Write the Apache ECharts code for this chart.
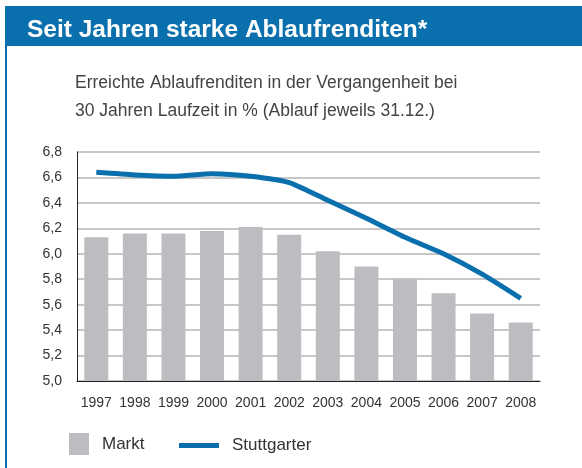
<!DOCTYPE html>
<html>
<head>
<meta charset="utf-8">
<script src="https://cdn.jsdelivr.net/npm/echarts@6/dist/echarts.min.js"></script>
<style>
  html, body { margin: 0; padding: 0; background: #fff; }
  #chart { width: 582px; height: 468px; }
</style>
</head>
<body>
<div id="chart"></div>
<script>
// Daten
const jahre = ['1997', '1998', '1999', '2000', '2001', '2002', '2003', '2004', '2005', '2006', '2007', '2008'];
const markt = [6.13, 6.16, 6.16, 6.18, 6.21, 6.15, 6.02, 5.90, 5.80, 5.69, 5.53, 5.46];
const stuttgarter = [6.64, 6.62, 6.61, 6.63, 6.61, 6.56, 6.42, 6.28, 6.13, 6.00, 5.84, 5.65];

const blau = '#0a70ad';
const grau = '#bcbdc0';
const schrift = 'Liberation Sans, Arial, Helvetica, sans-serif';

const chart = echarts.init(document.getElementById('chart'));

const option = {
  animation: false,
  graphic: [
    // blauer Kopfbalken
    { type: 'rect', left: 5, top: 6, shape: { width: 577, height: 40 }, style: { fill: blau } },
    // linke Randlinie
    { type: 'rect', left: 5, top: 6, shape: { width: 2, height: 462 }, style: { fill: blau } }
  ],
  title: [
    {
      text: 'Seit Jahren starke Ablaufrenditen*',
      left: 27, top: 18, padding: 0,
      textStyle: { color: '#fff', fontSize: 24.5, fontWeight: 'bold', fontFamily: schrift }
    },
    {
      text: 'Erreichte Ablaufrenditen in der Vergangenheit bei\n30 Jahren Laufzeit in % (Ablauf jeweils 31.12.)',
      left: 75, top: 69, padding: 0,
      textStyle: { color: '#444', fontSize: 17.5, fontWeight: 'normal', lineHeight: 28, fontFamily: schrift }
    }
  ],
  legend: [
    {
      data: ['Markt'],
      left: 69, top: 433, padding: 0,
      itemWidth: 20, itemHeight: 22, icon: 'rect',
      textStyle: { color: '#333', fontSize: 17, fontFamily: schrift, padding: [3, 0, 0, 8] }
    },
    {
      data: [{ name: 'Stuttgarter', icon: 'rect', itemStyle: { color: blau } }],
      left: 179, top: 437, padding: 0,
      itemWidth: 40, itemHeight: 5,
      textStyle: { color: '#333', fontSize: 17, fontFamily: schrift, padding: [0, 0, 0, 8] }
    }
  ],
  grid: { left: 77, right: 42, top: 152, bottom: 87 },
  xAxis: {
    type: 'category',
    data: jahre,
    axisLine: { lineStyle: { color: '#222', width: 1 } },
    axisTick: { show: false },
    axisLabel: { color: '#333', fontSize: 14, margin: 15, interval: 0, fontFamily: schrift }
  },
  yAxis: {
    type: 'value',
    min: 5.0, max: 6.8, interval: 0.2,
    axisLine: { show: true, lineStyle: { color: '#222', width: 1 } },
    axisTick: { show: false },
    axisLabel: {
      color: '#333', fontSize: 14, margin: 15, fontFamily: schrift,
      formatter: v => v.toFixed(1).replace('.', ',')
    },
    splitLine: { lineStyle: { color: '#b4b4b4', width: 1.5 } }
  },
  series: [
    {
      name: 'Markt',
      type: 'bar',
      data: markt,
      barWidth: 24,
      itemStyle: { color: grau }
    },
    {
      name: 'Stuttgarter',
      type: 'line',
      data: stuttgarter,
      smooth: 0.2,
      symbol: 'none',
      lineStyle: { color: blau, width: 5 },
      itemStyle: { color: blau }
    }
  ]
};

chart.setOption(option);
</script>
</body>
</html>
